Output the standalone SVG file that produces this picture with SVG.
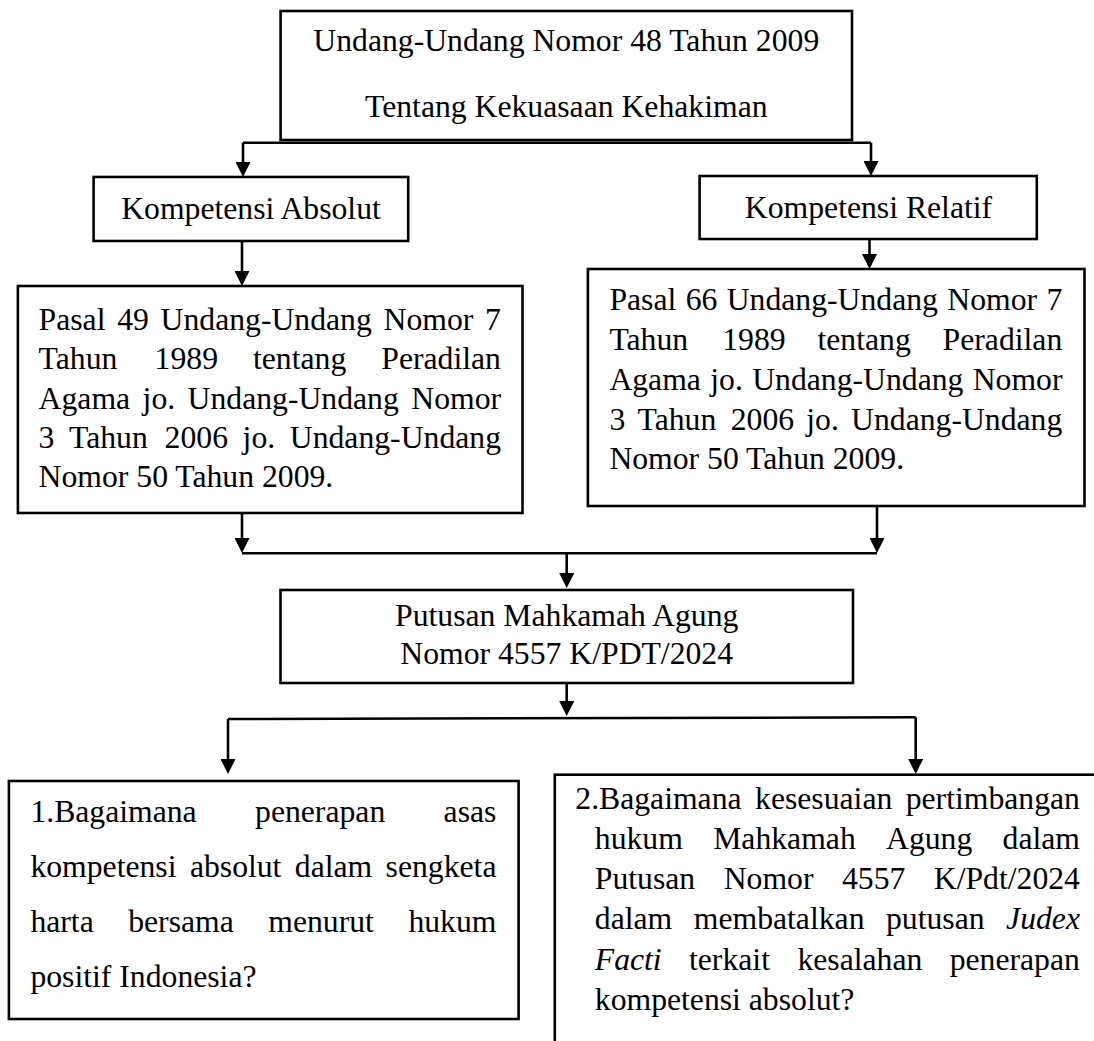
<svg xmlns="http://www.w3.org/2000/svg" width="1094" height="1041" viewBox="0 0 1094 1041">
<style>
.box{fill:#fff;stroke:#000;stroke-width:2.6}
.t{font-family:"Liberation Serif","Times New Roman",serif;font-size:31.7px;fill:#000}
.c{text-anchor:middle}
.i{font-style:italic}
.ln{fill:none;stroke:#000;stroke-width:2.6}
</style>
<defs>
<marker id="ah" viewBox="0 0 15 15" refX="10" refY="7.5" markerWidth="15" markerHeight="15" markerUnits="userSpaceOnUse" orient="auto">
<path d="M0,0 L15,7.5 L0,15 z" fill="#000"/>
</marker>
</defs>
<rect width="1094" height="1041" fill="#fff"/>

<g id="connectors">
<path class="ln" d="M243,142.7 H871"/>
<path class="ln" d="M243,142.7 V172" marker-end="url(#ah)"/>
<path class="ln" d="M871,142.7 V171" marker-end="url(#ah)"/>
<path class="ln" d="M242,241 V281" marker-end="url(#ah)"/>
<path class="ln" d="M869.5,239 V264" marker-end="url(#ah)"/>
<path class="ln" d="M242,513 V548" marker-end="url(#ah)"/>
<path class="ln" d="M877,506 V548" marker-end="url(#ah)"/>
<path class="ln" d="M242,553.3 H877"/>
<path class="ln" d="M566.7,553.3 V583" marker-end="url(#ah)"/>
<path class="ln" d="M566.7,683 V711" marker-end="url(#ah)"/>
<path class="ln" d="M228,719 L915.7,717.3"/>
<path class="ln" d="M228,719 V769" marker-end="url(#ah)"/>
<path class="ln" d="M915.7,717.3 V769" marker-end="url(#ah)"/>
</g>

<g id="node-uu48">
<rect class="box" x="280.6" y="11" width="571.4" height="129"/>
<text class="t c" x="566.3" y="51">Undang-Undang Nomor 48 Tahun 2009</text>
<text class="t c" x="566.3" y="117">Tentang Kekuasaan Kehakiman</text>
</g>

<g id="node-absolut">
<rect class="box" x="93.6" y="177" width="314.6" height="64"/>
<text class="t c" x="251" y="219">Kompetensi Absolut</text>
</g>

<g id="node-relatif">
<rect class="box" x="699.6" y="176" width="337.2" height="63"/>
<text class="t c" x="868.5" y="218">Kompetensi Relatif</text>
</g>

<g id="node-pasal49">
<rect class="box" x="17.9" y="286" width="504.6" height="227"/>
<text class="t" y="330"><tspan x="38.6">Pasal</tspan><tspan x="117.2">49</tspan><tspan x="160.6">Undang-Undang</tspan><tspan x="383.6">Nomor</tspan><tspan x="485.1">7</tspan></text>
<text class="t" y="369.3"><tspan x="38.6">Tahun</tspan><tspan x="154.6">1989</tspan><tspan x="253">tentang</tspan><tspan x="381.3">Peradilan</tspan></text>
<text class="t" y="408.6"><tspan x="38.6">Agama</tspan><tspan x="142.6">jo.</tspan><tspan x="187.6">Undang-Undang</tspan><tspan x="411.3">Nomor</tspan></text>
<text class="t" y="448"><tspan x="38.6">3</tspan><tspan x="69">Tahun</tspan><tspan x="164.6">2006</tspan><tspan x="242.6">jo.</tspan><tspan x="289.8">Undang-Undang</tspan></text>
<text class="t" x="38.6" y="487.3">Nomor 50 Tahun 2009.</text>
</g>

<g id="node-pasal66">
<rect class="box" x="587.9" y="269" width="496.6" height="237"/>
<text class="t" y="310"><tspan x="609.4">Pasal</tspan><tspan x="685.65">66</tspan><tspan x="726.7">Undang-Undang</tspan><tspan x="947.35">Nomor</tspan><tspan x="1046.5">7</tspan></text>
<text class="t" y="350"><tspan x="609.4">Tahun</tspan><tspan x="722.2">1989</tspan><tspan x="817.5">tentang</tspan><tspan x="942.6">Peradilan</tspan></text>
<text class="t" y="390"><tspan x="609.4">Agama</tspan><tspan x="710.3">jo.</tspan><tspan x="752.2">Undang-Undang</tspan><tspan x="972.7">Nomor</tspan></text>
<text class="t" y="430"><tspan x="609.4">3</tspan><tspan x="637.5">Tahun</tspan><tspan x="730.7">2006</tspan><tspan x="806.3">jo.</tspan><tspan x="851.1">Undang-Undang</tspan></text>
<text class="t" x="609.4" y="469">Nomor 50 Tahun 2009.</text>
</g>

<g id="node-putusan">
<rect class="box" x="280.5" y="590" width="572.5" height="93"/>
<text class="t c" x="566.7" y="626">Putusan Mahkamah Agung</text>
<text class="t c" x="566.7" y="664">Nomor 4557 K/PDT/2024</text>
</g>

<g id="node-rm1">
<rect class="box" x="8.9" y="781" width="509.7" height="238"/>
<text class="t" y="822"><tspan x="30.4">1.Bagaimana</tspan><tspan x="255.05">penerapan</tspan><tspan x="443.6">asas</tspan></text>
<text class="t" y="877"><tspan x="30.4">kompetensi</tspan><tspan x="189.9">absolut</tspan><tspan x="294.8">dalam</tspan><tspan x="385.6">sengketa</tspan></text>
<text class="t" y="932"><tspan x="30.4">harta</tspan><tspan x="128.2">bersama</tspan><tspan x="268.3">menurut</tspan><tspan x="408.4">hukum</tspan></text>
<text class="t" x="30.4" y="987">positif Indonesia?</text>
</g>

<g id="node-rm2">
<rect class="box" x="554.8" y="774.7" width="600" height="400"/>
<text class="t" y="809"><tspan x="575.3">2.Bagaimana</tspan><tspan x="755.05">kesesuaian</tspan><tspan x="905.7">pertimbangan</tspan></text>
<text class="t" y="849"><tspan x="594.8">hukum</tspan><tspan x="713.2">Mahkamah</tspan><tspan x="886">Agung</tspan><tspan x="1002.6">dalam</tspan></text>
<text class="t" y="889"><tspan x="594.8">Putusan</tspan><tspan x="723.7">Nomor</tspan><tspan x="842">4557</tspan><tspan x="933.8">K/Pdt/2024</tspan></text>
<text class="t" y="929"><tspan x="594.8">dalam</tspan><tspan x="693.8">membatalkan</tspan><tspan x="886">putusan</tspan><tspan class="i" x="1006.1">Judex</tspan></text>
<text class="t" y="969.5"><tspan class="i" x="594.8">Facti</tspan><tspan x="689">terkait</tspan><tspan x="797.4">kesalahan</tspan><tspan x="949.7">penerapan</tspan></text>
<text class="t" x="594.8" y="1010">kompetensi absolut?</text>
</g>
</svg>
